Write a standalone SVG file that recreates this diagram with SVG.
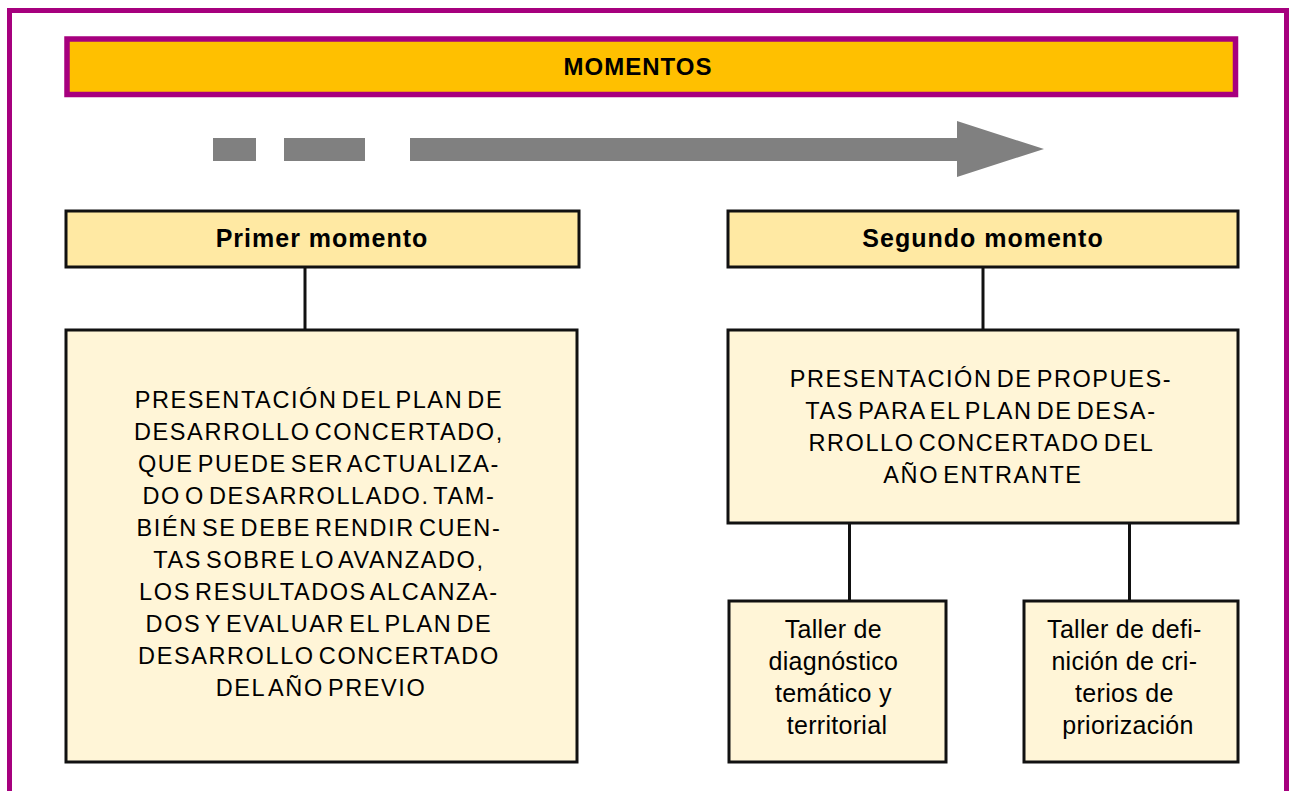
<svg xmlns="http://www.w3.org/2000/svg" width="1289" height="791" viewBox="0 0 1289 791">
<style>
.frame{fill:none;stroke:#A6007E;stroke-width:5}
.bar{fill:#FFC000;stroke:#A6007E;stroke-width:5.5}
.gray{fill:#808080}
.hdr{fill:#FFE9A3;stroke:#111;stroke-width:3}
.box{fill:#FFF5D7;stroke:#111;stroke-width:3}
.ln{stroke:#111;stroke-width:3;fill:none}
.tb{font-family:"Liberation Sans",Arial,sans-serif;font-weight:bold;fill:#000;text-anchor:middle}
.t{font-family:"Liberation Sans",Arial,sans-serif;fill:#000;text-anchor:middle}
.big{font-size:23.5px;letter-spacing:1.6px;word-spacing:-4px}
.sm{font-size:25px;letter-spacing:0.3px}
</style>
<rect width="1289" height="791" fill="#fff"/>
<rect class="frame" x="9.5" y="10.5" width="1277" height="800"/>
<g id="momentos">
<rect class="bar" x="67" y="39" width="1168.5" height="55.5"/>
<text class="tb" x="638" y="75" font-size="24" letter-spacing="1">MOMENTOS</text>
</g>
<g id="timeline">
<rect class="gray" x="213" y="138" width="43" height="23"/>
<rect class="gray" x="284" y="138" width="81" height="23"/>
<polygon class="gray" points="410,138 957,138 957,121 1044,149 957,177 957,161 410,161"/>
</g>
<g id="connectors">
<line class="ln" x1="305" y1="267" x2="305" y2="330"/>
<line class="ln" x1="983" y1="267" x2="983" y2="330"/>
<line class="ln" x1="849.5" y1="523" x2="849.5" y2="601"/>
<line class="ln" x1="1129.5" y1="523" x2="1129.5" y2="601"/>
</g>
<g id="primer">
<rect class="hdr" x="66" y="211" width="513" height="56"/>
<text class="tb" x="322" y="247" font-size="25" letter-spacing="1">Primer momento</text>
</g>
<g id="segundo">
<rect class="hdr" x="728" y="211" width="510" height="56"/>
<text class="tb" x="983" y="247" font-size="25" letter-spacing="1">Segundo momento</text>
</g>
<g id="presentacion-plan">
<rect class="box" x="66" y="330" width="511" height="432"/>
<text class="t big">
<tspan x="321" y="408">PRESENTACIÓN DEL PLAN DE</tspan>
<tspan x="321" y="440">DESARROLLO CONCERTADO,</tspan>
<tspan x="321" y="472">QUE PUEDE SER ACTUALIZA-</tspan>
<tspan x="321" y="504">DO O DESARROLLADO. TAM-</tspan>
<tspan x="321" y="536">BIÉN SE DEBE RENDIR CUEN-</tspan>
<tspan x="321" y="568">TAS SOBRE LO AVANZADO,</tspan>
<tspan x="321" y="600">LOS RESULTADOS ALCANZA-</tspan>
<tspan x="321" y="632">DOS Y EVALUAR EL PLAN DE</tspan>
<tspan x="321" y="664">DESARROLLO CONCERTADO</tspan>
<tspan x="321" y="696">DEL AÑO PREVIO</tspan>
</text>
</g>
<g id="presentacion-propuestas">
<rect class="box" x="728" y="330" width="510" height="193"/>
<text class="t big">
<tspan x="983" y="387">PRESENTACIÓN DE PROPUES-</tspan>
<tspan x="983" y="419">TAS PARA EL PLAN DE DESA-</tspan>
<tspan x="983" y="451">RROLLO CONCERTADO DEL</tspan>
<tspan x="983" y="483">AÑO ENTRANTE</tspan>
</text>
</g>
<g id="taller-diagnostico">
<rect class="box" x="729" y="601" width="217" height="161"/>
<text class="t sm">
<tspan x="837" y="638">Taller de</tspan>
<tspan x="837" y="670">diagnóstico</tspan>
<tspan x="837" y="702">temático y</tspan>
<tspan x="837" y="734">territorial</tspan>
</text>
</g>
<g id="taller-criterios">
<rect class="box" x="1024" y="601" width="214" height="161"/>
<text class="t sm">
<tspan x="1128" y="638">Taller de defi-</tspan>
<tspan x="1128" y="670">nición de cri-</tspan>
<tspan x="1128" y="702">terios de</tspan>
<tspan x="1128" y="734">priorización</tspan>
</text>
</g>
</svg>
